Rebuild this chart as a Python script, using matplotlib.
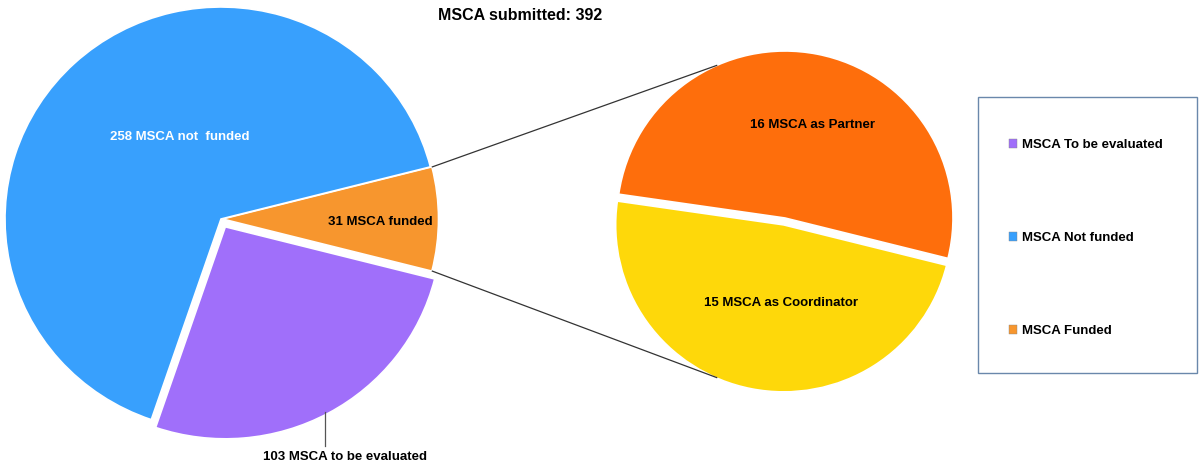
import numpy as np
import matplotlib
matplotlib.use("Agg")
import matplotlib.pyplot as plt
from matplotlib.patches import Patch, Rectangle

# data
main_labels = ['MSCA Funded', 'MSCA Not funded', 'MSCA To be evaluated']
main_values = [31, 258, 103]
main_text = ['31 MSCA funded', '258 MSCA not  funded', '103 MSCA to be evaluated']
main_colors = ['#f7962e', '#38a0fd', '#a06ffa']

sub_labels = ['MSCA as Partner', 'MSCA as Coordinator']
sub_values = [16, 15]
sub_text = ['16 MSCA as Partner', '15 MSCA as Coordinator']
sub_colors = ['#fe6e0c', '#fed80a']

title = 'MSCA submitted: %d' % sum(main_values)

fnt = ['Liberation Sans Narrow', 'Liberation Sans', 'DejaVu Sans']
plt.rcParams['font.family'] = fnt

W, H = 1199, 468
fig = plt.figure(figsize=(W / 100, H / 100), dpi=100)


def pie_axes(cx, cy, rx, ry):
    # cx, cy in pixels from top-left; pie drawn with radius 1 in an auto-aspect axes
    a = fig.add_axes([(cx - rx) / W, (H - cy - ry) / H, 2 * rx / W, 2 * ry / H])
    return a


def finish(a, wedges):
    a.set_aspect('auto')
    a.set_xlim(-1, 1)
    a.set_ylim(-1, 1)
    a.axis('off')
    for w in wedges:
        w.set_clip_on(False)


# left pie
c1 = (221, 219)
rx1, ry1 = 216, 212
half = 180.0 * main_values[0] / sum(main_values)
ax1 = pie_axes(c1[0], c1[1], rx1, ry1)
w1, _ = ax1.pie(main_values, colors=main_colors, startangle=-half, counterclock=True,
                radius=1, explode=[0.007, 0.0, 0.042],
                wedgeprops=dict(edgecolor='white', linewidth=1.2))
finish(ax1, w1)

# right pie
c2 = (785, 218)
rx2, ry2 = 168, 167
ang2 = -14.0
ax2 = pie_axes(c2[0], c2[1], rx2, ry2)
w2, _ = ax2.pie(sub_values, colors=sub_colors, startangle=ang2, counterclock=True,
                radius=1, explode=[0.0, 0.042],
                wedgeprops=dict(edgecolor='white', linewidth=1.2))
finish(ax2, w2)

# overlay axes in pixel coords (y down)
ax = fig.add_axes([0, 0, 1, 1])
ax.set_xlim(0, W)
ax.set_ylim(H, 0)
ax.axis('off')

# connection lines
for s in (1, -1):
    a = np.deg2rad(s * half)
    x0 = c1[0] + rx1 * np.cos(a) + 2
    y0 = c1[1] - ry1 * np.sin(a)
    b = np.deg2rad(s * 114)
    x1 = c2[0] + rx2 * np.cos(b)
    y1 = c2[1] - ry2 * np.sin(b) + (7 if s < 0 else 0)
    ax.plot([x0, x1], [y0, y1], color='#333333', lw=0.9)

# labels
kw = dict(fontsize=9.5, fontweight='bold', ha='center', va='center')
ax.text(180, 137, main_text[1], color='white', **kw)
ax.text(380, 222, main_text[0], color='black', **kw)
ax.plot([325, 325], [412, 446], color='#555555', lw=0.9)
ax.text(345, 457, main_text[2], color='black', **kw)
ax.text(812, 125, sub_text[0], color='black', **kw)
ax.text(781, 303, sub_text[1], color='black', **kw)

ax.text(520, 15, title, color='black', fontsize=11.5, fontweight='bold', ha='center', va='center')

# legend box + entries
ax.add_patch(Rectangle((978, 97), 219, 276, fill=False, edgecolor='#6a88ab', linewidth=1.0))
order = [2, 1, 0]
handles = [Patch(facecolor=main_colors[i], edgecolor='#888888', linewidth=0.3) for i in order]
leg = ax.legend(handles, [main_labels[i] for i in order], loc='upper left',
                bbox_to_anchor=(1009, 139), bbox_transform=ax.transData, frameon=False,
                prop=dict(family=fnt, weight='bold', size=9.5),
                handlelength=0.6, handleheight=0.6, handletextpad=0.35,
                labelspacing=6.15, borderpad=0, borderaxespad=0)

fig.savefig('out.png', dpi=100)
